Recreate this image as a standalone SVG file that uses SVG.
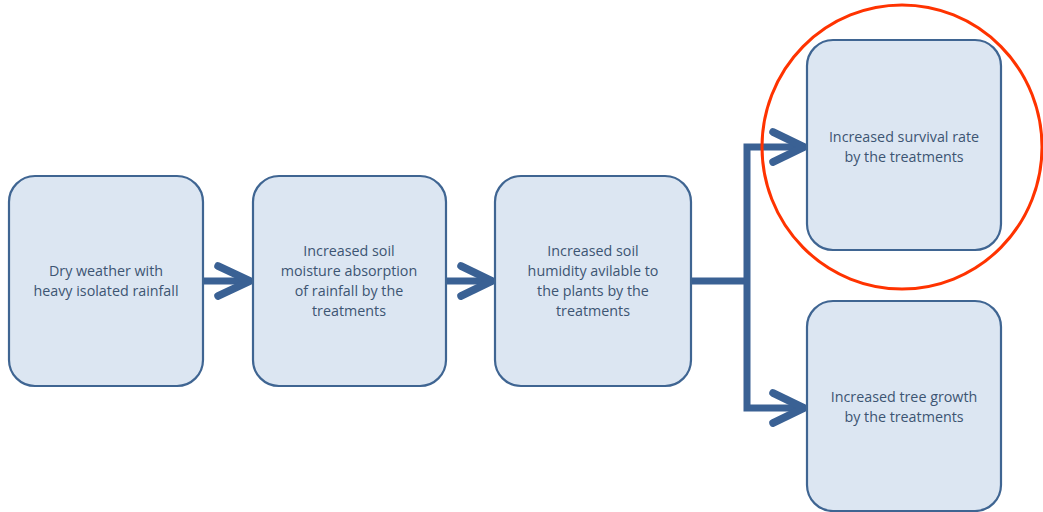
<svg xmlns="http://www.w3.org/2000/svg" width="1043" height="512" viewBox="0 0 1043 512">
<style>
.box{fill:#DCE6F2;stroke:#3F6592;stroke-width:2.2}
.t{font-family:"Open Sans","Liberation Sans",sans-serif;font-size:14.3px;fill:#3D5573;text-anchor:middle}
.ln{fill:none;stroke:#3A6194;stroke-width:7;stroke-linecap:round;stroke-linejoin:round}
.hd{fill:none;stroke:#3A6194;stroke-width:7.5;stroke-linecap:round;stroke-linejoin:round}
</style>
<rect width="1043" height="512" fill="#FFFFFF"/>
<g id="connectors">
<line class="ln" x1="203" y1="281" x2="250" y2="281" style="stroke-linecap:butt"/>
<polyline class="hd" points="218,266 250,281 218,296"/>
<line class="ln" x1="446" y1="281" x2="492" y2="281" style="stroke-linecap:butt"/>
<polyline class="hd" points="461,266 492,281 461,296"/>
<polyline class="ln" points="691,281 747,281" style="stroke-linecap:butt"/>
<polyline class="ln" points="804,147 747,147 747,408 804,408" style="stroke-linecap:butt;stroke-linejoin:miter"/>
<polyline class="hd" points="773,132 804,147 773,162"/>
<polyline class="hd" points="773,393 804,408 773,423"/>
</g>
<g id="n1">
<rect class="box" x="9" y="176" width="194" height="210" rx="26"/>
<text class="t" x="106" y="276">Dry weather with</text>
<text class="t" x="106" y="296">heavy isolated rainfall</text>
</g>
<g id="n2">
<rect class="box" x="253" y="176" width="193" height="210" rx="26"/>
<text class="t" x="349" y="256">Increased soil</text>
<text class="t" x="349" y="276">moisture absorption</text>
<text class="t" x="349" y="296">of rainfall by the</text>
<text class="t" x="349" y="316">treatments</text>
</g>
<g id="n3">
<rect class="box" x="495" y="176" width="196" height="210" rx="26"/>
<text class="t" x="593" y="256">Increased soil</text>
<text class="t" x="593" y="276">humidity avilable to</text>
<text class="t" x="593" y="296">the plants by the</text>
<text class="t" x="593" y="316">treatments</text>
</g>
<g id="n4">
<rect class="box" x="807" y="40" width="194" height="210" rx="26"/>
<text class="t" x="904" y="142">Increased survival rate</text>
<text class="t" x="904" y="162">by the treatments</text>
</g>
<g id="n5">
<rect class="box" x="807" y="301" width="194" height="210" rx="26"/>
<text class="t" x="904" y="402">Increased tree growth</text>
<text class="t" x="904" y="422">by the treatments</text>
</g>
<g id="highlight">
<ellipse cx="902" cy="147" rx="140" ry="142" fill="none" stroke="#FF3300" stroke-width="3"/>
</g>
</svg>
